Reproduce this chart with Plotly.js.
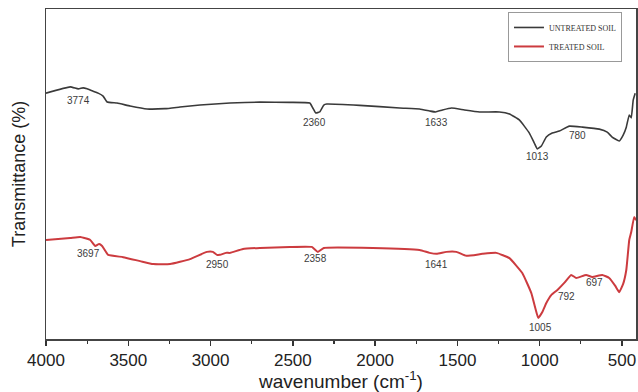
<!DOCTYPE html>
<html>
<head>
<meta charset="utf-8">
<script src="https://cdn.plot.ly/plotly-3.0.1.min.js"></script>
<style>html,body{margin:0;padding:0;background:#fff;}#chart{width:638px;height:392px;}</style>
</head>
<body>
<div id="chart"></div>
<script>
// Untreated soil spectrum (wavenumber, relative transmittance)
const untreatedWn = [4000,3853,3804,3774,3750,3719,3683,3653,3628,3568,3489,3386,3277,3186,3064,2882,2700,2518,2397,2379,2361,2337,2312,2294,2094,1851,1730,1669,1633,1591,1536,1457,1366,1245,1184,1124,1063,1033,1015,990,960,924,881,820,741,638,590,560,517,493,474,456,444,432,420];
const untreatedT  = [74.5,76.4,75.8,76.1,75.8,75.2,74.5,73.6,71.8,71.5,70.6,69.7,69.8,70.3,70.9,71.5,71.8,71.7,71.5,70.0,68.5,68.8,70.9,71.2,70.8,70.0,69.7,69.1,68.8,69.4,70.0,69.4,68.8,68.8,68.2,66.4,62.4,59.4,57.6,58.5,61.2,62.4,63.0,64.5,64.2,63.6,62.7,61.2,60.0,61.8,64.2,67.9,67.0,72.4,74.5];

// Treated soil spectrum
const treatedWn = [4000,3853,3792,3731,3701,3677,3659,3622,3531,3428,3349,3246,3125,3022,2986,2961,2943,2906,2882,2803,2700,2518,2385,2348,2312,2015,1730,1669,1627,1567,1506,1446,1349,1264,1184,1106,1051,1027,1009,984,960,930,894,851,809,778,718,681,620,578,541,517,493,474,456,444,426,414];
const treatedT  = [30.0,30.6,30.9,30.0,28.2,28.8,28.2,25.5,24.8,23.6,22.7,22.7,24.2,26.4,26.4,25.5,25.5,26.1,26.1,27.3,27.6,27.9,27.9,26.4,27.6,27.6,27.0,26.1,25.8,26.4,26.4,25.2,25.8,26.1,24.5,20.0,13.9,9.4,6.4,8.2,10.9,13.3,14.8,17.0,19.4,18.5,19.4,18.8,19.4,18.5,16.1,14.2,16.7,20.9,30.0,32.4,37.0,36.0];

// Peak labels
const untreatedLabels = ["3774","2360","1633","1013","780"];
const untreatedLabelWn = [3804,2367,1627,1015,771];
const untreatedLabelT  = [72.4,65.5,65.5,55.2,61.8];
const treatedLabels = ["3697","2950","2358","1641","1005","792","697"];
const treatedLabelWn = [3744,2955,2360,1627,997,839,669];
const treatedLabelT  = [25.8,22.7,24.5,22.7,3.6,13.0,17.0];

const tickVals = [4000,3500,3000,2500,2000,1500,1000,500];
const tickText = ["4000","3500","3000","2500","2000","1500","1000","500"];

const traces = [
  {x: untreatedWn, y: untreatedT, type: 'scatter', mode: 'lines', name: 'UNTREATED SOIL',
   line: {color: '#3a3a3a', width: 1.6, shape: 'spline', smoothing: 0.35}},
  {x: treatedWn, y: treatedT, type: 'scatter', mode: 'lines', name: 'TREATED SOIL',
   line: {color: '#cc3b3f', width: 2, shape: 'spline', smoothing: 0.35}}
];

const annFont = {family: 'Liberation Sans, Arial, sans-serif', size: 10, color: '#3c3c3c'};
const annotations = [];
untreatedLabels.forEach((t, i) => annotations.push({x: untreatedLabelWn[i], y: untreatedLabelT[i], text: t, showarrow: false, font: annFont, xref: 'x', yref: 'y'}));
treatedLabels.forEach((t, i) => annotations.push({x: treatedLabelWn[i], y: treatedLabelT[i], text: t, showarrow: false, font: annFont, xref: 'x', yref: 'y'}));

const layout = {
  width: 638, height: 392,
  margin: {l: 46, r: 2, t: 9, b: 53},
  paper_bgcolor: '#fff', plot_bgcolor: '#fff',
  showlegend: true,
  legend: {x: 0.783, y: 0.991, xanchor: 'left', yanchor: 'top',
    bgcolor: '#fff', bordercolor: '#999', borderwidth: 1,
    font: {family: 'Liberation Serif, Times New Roman, serif', size: 8, color: '#333'},
    tracegroupgap: 0, itemwidth: 30},
  xaxis: {
    range: [4000, 415], tickvals: tickVals, ticktext: tickText,
    ticks: 'outside', ticklen: 5, tickwidth: 1.3, tickcolor: '#333',
    minor: {dtick: 250, ticks: 'outside', ticklen: 3, tickcolor: '#333', tickwidth: 1.2},
    showgrid: false, zeroline: false,
    showline: true, linecolor: '#444', linewidth: 1.5, mirror: true,
    tickfont: {family: 'Liberation Sans, Arial, sans-serif', size: 17, color: '#222'},
    title: {text: 'wavenumber (cm<sup>-1</sup>)', font: {family: 'Liberation Sans, Arial, sans-serif', size: 19, color: '#222'}, standoff: 8}
  },
  yaxis: {
    range: [0, 100], showticklabels: false, ticks: '',
    showgrid: false, zeroline: false,
    showline: true, linecolor: '#444', linewidth: 1.5, mirror: true,
    title: {text: 'Transmittance (%)', font: {family: 'Liberation Sans, Arial, sans-serif', size: 18, color: '#222'}, standoff: 14}
  },
  annotations: annotations
};

Plotly.newPlot('chart', traces, layout, {displayModeBar: false, staticPlot: true});
</script>
</body>
</html>
